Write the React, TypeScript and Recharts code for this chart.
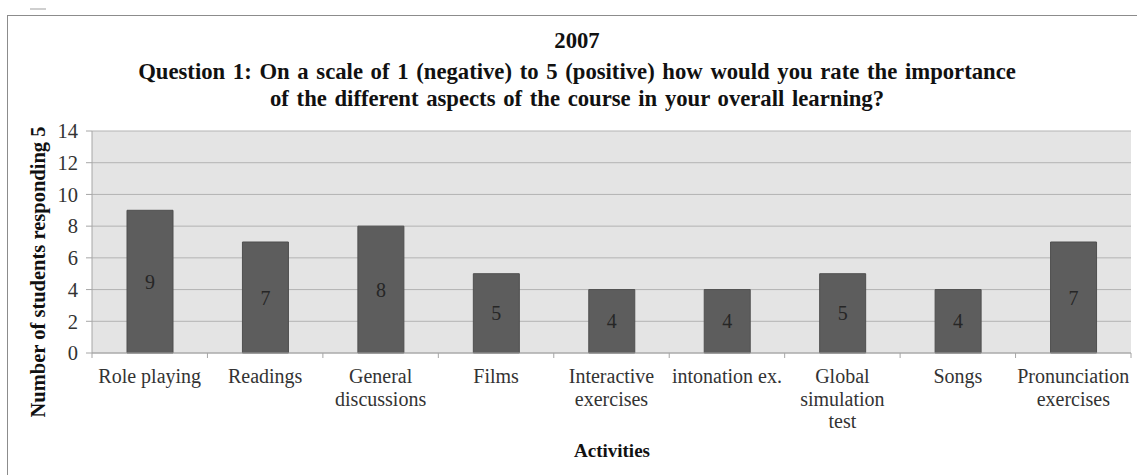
import React from "react";
import { BarChart, Bar, XAxis, YAxis, CartesianGrid, LabelList } from "recharts";

const categories = [
  "Role playing",
  "Readings",
  "General discussions",
  "Films",
  "Interactive exercises",
  "intonation ex.",
  "Global simulation test",
  "Songs",
  "Pronunciation exercises",
];
const tickLines: string[][] = [
  ["Role playing"],
  ["Readings"],
  ["General", "discussions"],
  ["Films"],
  ["Interactive", "exercises"],
  ["intonation ex."],
  ["Global", "simulation", "test"],
  ["Songs"],
  ["Pronunciation", "exercises"],
];
const values = [9, 7, 8, 5, 4, 4, 5, 4, 7];
const yTicks = [0, 2, 4, 6, 8, 10, 12, 14];
const titleYear = "2007";
const titleLine1 = "Question 1: On a scale of 1 (negative) to 5 (positive) how would you rate the importance";
const titleLine2 = "of the different aspects of the course in your overall learning?";
const yLabel = "Number of students responding 5";
const xLabel = "Activities";

const data = categories.map((c, i) => ({ name: c, value: values[i] }));

const FONT = '"Liberation Serif", "Times New Roman", serif';

const XTick = (props: any) => {
  const { x, y, payload, index } = props;
  const off = payload && payload.offset ? payload.offset : 57.7;
  const lines = tickLines[index] || [payload.value];
  return (
    <g>
      <line x1={x - off} x2={x - off} y1={y} y2={y + 5} stroke="#a6a6a6" />
      {index === categories.length - 1 && (
        <line x1={x + off} x2={x + off} y1={y} y2={y + 5} stroke="#a6a6a6" />
      )}
      <text x={x} y={y + 30} textAnchor="middle" fontFamily={FONT} fontSize={20} fill="#333">
        {lines.map((l, i) => (
          <tspan key={i} x={x} dy={i === 0 ? 0 : 22.5}>
            {l}
          </tspan>
        ))}
      </text>
    </g>
  );
};

const titleStyle: React.CSSProperties = {
  position: "absolute",
  left: 0,
  width: 1154,
  lineHeight: "24px",
  textAlign: "center",
  fontFamily: FONT,
  fontWeight: "bold",
  fontSize: 22.7,
  color: "#111",
  whiteSpace: "nowrap",
  wordSpacing: 2,
};

export default function App() {
  return (
    <div style={{ position: "absolute", left: 0, top: 0, width: 1137, height: 475, background: "#fff", overflow: "hidden" }}>
      <div style={{ position: "absolute", left: 30, top: 8, width: 16, height: 2, background: "#cfcfcf" }} />
      <div
        style={{
          position: "absolute",
          left: 7,
          top: 15,
          width: 1140,
          height: 470,
          borderTop: "1px solid #8c8c8c",
          borderLeft: "1px solid #8c8c8c",
        }}
      />
      <BarChart
        width={1137}
        height={475}
        data={data}
        margin={{ top: 131, right: 6, left: 0, bottom: 0 }}
      >
        <CartesianGrid vertical={false} stroke="#b3b3b3" fill="#e4e4e4" fillOpacity={1} />
        <XAxis
          dataKey="name"
          interval={0}
          height={122}
          tickSize={0}
          tickMargin={0}
          tickLine={false}
          axisLine={{ stroke: "#a6a6a6" }}
          tick={<XTick />}
        />
        <YAxis
          width={92}
          domain={[0, 14]}
          ticks={yTicks}
          interval={0}
          tickSize={6}
          tickMargin={8}
          tickLine={{ stroke: "#a6a6a6" }}
          axisLine={{ stroke: "#a6a6a6" }}
          tick={{ fontFamily: FONT, fontSize: 20.5, fill: "#333" }}
        />
        <Bar dataKey="value" fill="#5d5d5d" stroke="#4f4f4f" barSize={46} isAnimationActive={false}>
          <LabelList dataKey="value" position="center" fill="#262626" fontFamily={FONT} fontSize={20} />
        </Bar>
      </BarChart>
      <div style={{ ...titleStyle, top: 29 }}>{titleYear}</div>
      <div style={{ ...titleStyle, top: 60 }}>{titleLine1}</div>
      <div style={{ ...titleStyle, top: 87 }}>{titleLine2}</div>
      <div
        style={{
          position: "absolute",
          left: 38,
          top: 272,
          transform: "translate(-50%, -50%) rotate(-90deg)",
          fontFamily: FONT,
          fontWeight: "bold",
          fontSize: 20.5,
          lineHeight: "22px",
          color: "#111",
          whiteSpace: "nowrap",
        }}
      >
        {yLabel}
      </div>
      <div
        style={{
          position: "absolute",
          left: 612,
          top: 451,
          transform: "translate(-50%, -50%)",
          fontFamily: FONT,
          fontWeight: "bold",
          fontSize: 19,
          lineHeight: "22px",
          color: "#111",
          whiteSpace: "nowrap",
        }}
      >
        {xLabel}
      </div>
    </div>
  );
}
